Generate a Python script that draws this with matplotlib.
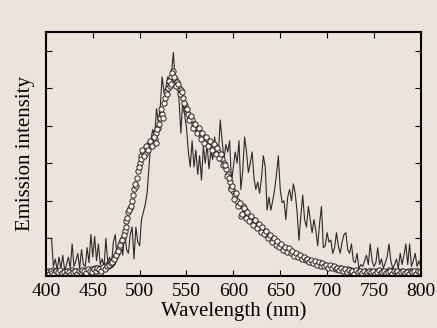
import matplotlib
matplotlib.use("Agg")
import matplotlib.pyplot as plt
import numpy as np

plt.rcParams['font.family'] = ['Liberation Serif', 'DejaVu Serif']

# wavelength grids (nm)
wavelength = np.arange(400, 801, 2)
wavelength_odd = np.arange(401, 800, 2)

# noisy emission spectrum (solid line)
line_intensity = [
    1.0, 1.0, 1.0, 1.0, 0.25, 0.45, 0.15, 0.5, 0.2, 0.55,            # 400-418
    0.15, 0.3, 0.5, 0.2, 0.85, 0.25, 0.4, 0.6, 0.2, 0.7,             # 420-438
    0.3, 0.25, 0.75, 0.35, 1.1, 0.5, 1.05, 0.4, 0.85, 0.3,           # 440-458
    0.45, 0.25, 1.0, 0.35, 0.5, 0.3, 0.9, 1.1, 0.45, 0.6,            # 460-478
    0.9, 0.55, 1.2, 0.7, 0.6, 1.1, 1.3, 0.45, 1.3, 0.9,              # 480-498
    0.8, 1.5, 1.7, 1.9, 2.2, 2.9, 3.6, 3.9, 3.7, 4.45,               # 500-518
    4.1, 4.5, 5.3, 4.9, 5.0, 5.3, 5.1, 5.4, 5.95, 5.15,              # 520-538
    5.3, 4.7, 3.8, 4.7, 4.3, 3.95, 3.3, 2.9, 3.6, 2.9,               # 540-558
    3.35, 2.7, 3.2, 2.55, 3.45, 3.0, 3.5, 2.85, 3.3, 3.1,            # 560-578
    3.7, 3.25, 3.25, 4.15, 3.6, 3.1, 3.5, 3.3, 3.6, 2.5,             # 580-598
    2.9, 3.3, 3.0, 3.6, 2.3, 2.8, 3.7, 3.3, 2.75, 3.0,               # 600-618
    3.3, 2.6, 2.3, 2.5, 2.2, 2.6, 3.2, 2.9, 1.75, 2.1,               # 620-638
    1.75, 2.0, 2.3, 2.7, 3.2, 2.3, 1.95, 2.0, 1.5, 2.1,              # 640-658
    2.3, 2.0, 2.45, 2.2, 1.7, 0.95, 1.6, 2.15, 1.5, 1.3,             # 660-678
    1.85, 1.5, 1.15, 1.5, 1.2, 0.8, 1.4, 1.85, 0.75, 0.8,            # 680-698
    1.15, 0.9, 0.95, 0.6, 0.75, 1.15, 0.8, 0.6, 0.9, 1.1,            # 700-718
    1.15, 0.7, 0.6, 0.85, 0.4, 0.35, 0.6, 0.2, 0.3, 0.25,            # 720-738
    0.4, 0.55, 0.3, 0.85, 0.4, 0.25, 0.35, 0.75, 0.3, 0.45,          # 740-758
    0.2, 0.35, 0.5, 0.85, 0.4, 0.2, 0.3, 0.45, 0.2, 0.6,             # 760-778
    0.3, 0.55, 0.85, 0.3, 0.85, 0.25, 0.4, 0.6, 0.25, 0.4,           # 780-798
    0.25,                                                            # 800
]

# smoother spectrum (open circles), even wavelengths
circle_intensity = [
    0.08, 0.12, 0.05, 0.1, 0.15, 0.06, 0.1, 0.08, 0.13, 0.05,        # 400-418
    0.1, 0.12, 0.07, 0.1, 0.15, 0.08, 0.12, 0.1, 0.06, 0.14,         # 420-438
    0.1, 0.16, 0.12, 0.1, 0.18, 0.14, 0.2, 0.15, 0.2, 0.05,          # 440-458
    0.22, 0.2, 0.28, 0.25, 0.3, 0.35, 0.4, 0.5, 0.6, 0.75,           # 460-478
    0.9, 1.0, 1.2, 1.45, 1.7, 1.8, 2.0, 2.3, 2.4, 2.8,               # 480-498
    3.0, 3.2, 3.3, 3.25, 3.4, 3.5, 3.55, 3.5, 3.65, 3.8,             # 500-518
    3.95, 4.2, 4.3, 4.6, 4.9, 5.0, 5.05, 5.3, 5.45, 5.25,            # 520-538
    5.15, 5.0, 4.95, 4.75, 4.55, 4.4, 4.3, 4.2, 4.15, 4.05,          # 540-558
    3.95, 3.9, 3.8, 3.75, 3.7, 3.65, 3.6, 3.55, 3.5, 3.45,           # 560-578
    3.45, 3.35, 3.3, 3.2, 3.1, 3.0, 2.85, 2.7, 2.5, 2.35,            # 580-598
    2.25, 2.15, 2.0, 1.9, 1.6, 1.85, 1.75, 1.7, 1.6, 1.55,           # 600-618
    1.5, 1.45, 1.4, 1.35, 1.3, 1.25, 1.2, 1.15, 1.1, 1.05,           # 620-638
    1.0, 0.95, 0.9, 0.87, 0.83, 0.8, 0.77, 0.75, 0.72, 0.7,          # 640-658
    0.66, 0.63, 0.6, 0.58, 0.55, 0.52, 0.5, 0.48, 0.46, 0.44,        # 660-678
    0.42, 0.4, 0.38, 0.36, 0.35, 0.33, 0.32, 0.3, 0.29, 0.28,        # 680-698
    0.27, 0.25, 0.24, 0.23, 0.22, 0.2, 0.18, 0.2, 0.15, 0.18,        # 700-718
    0.14, 0.17, 0.12, 0.15, 0.1, 0.13, 0.08, 0.12, 0.03, 0.1,        # 720-738
    0.12, 0.08, 0.1, 0.13, 0.07, 0.1, 0.12, 0.06, 0.1, 0.13,         # 740-758
    0.08, 0.02, 0.1, 0.15, 0.08, 0.12, 0.05, 0.1, 0.13, 0.08,        # 760-778
    0.12, 0.04, 0.1, 0.14, 0.08, 0.12, 0.06, 0.1, 0.13, 0.08,        # 780-798
    0.1,                                                             # 800
]

# open circles, odd wavelengths
circle_intensity_odd = [
    0.1, 0.06, 0.14, 0.08, 0.04, 0.12, 0.09, 0.15, 0.07, 0.11,       # 401-419
    0.05, 0.13, 0.1, 0.04, 0.11, 0.14, 0.06, 0.12, 0.09, 0.16,       # 421-439
    0.12, 0.08, 0.17, 0.13, 0.1, 0.19, 0.12, 0.22, 0.18, 0.14,       # 441-459
    0.24, 0.18, 0.26, 0.3, 0.33, 0.38, 0.45, 0.55, 0.65, 0.82,       # 461-479
    0.95, 1.1, 1.3, 1.55, 1.75, 1.85, 2.15, 2.45, 2.6, 2.9,          # 481-499
    3.1, 3.35, 3.2, 3.45, 3.35, 3.6, 3.45, 3.7, 3.55, 3.9,           # 501-519
    4.05, 4.45, 4.2, 4.75, 4.85, 5.2, 5.1, 5.4, 5.3, 5.05,           # 521-539
    5.1, 4.85, 4.9, 4.6, 4.45, 4.45, 4.15, 4.25, 3.95, 4.05,         # 541-559
    3.8, 3.95, 3.65, 3.8, 3.55, 3.7, 3.45, 3.6, 3.35, 3.5,           # 561-579
    3.25, 3.4, 3.15, 3.25, 2.95, 2.95, 2.65, 2.6, 2.3, 2.4,          # 581-599
    2.05, 2.2, 1.85, 1.95, 1.65, 1.8, 1.55, 1.7, 1.45, 1.6,          # 601-619
    1.35, 1.5, 1.28, 1.38, 1.18, 1.3, 1.12, 1.2, 1.0, 1.1,           # 621-639
    0.9, 1.0, 0.82, 0.92, 0.76, 0.85, 0.7, 0.78, 0.64, 0.73,         # 641-659
    0.6, 0.67, 0.54, 0.62, 0.5, 0.56, 0.45, 0.5, 0.41, 0.46,         # 661-679
    0.37, 0.43, 0.34, 0.39, 0.3, 0.36, 0.27, 0.33, 0.25, 0.3,        # 681-699
    0.22, 0.28, 0.2, 0.25, 0.17, 0.22, 0.15, 0.2, 0.12, 0.18,        # 701-719
    0.1, 0.16, 0.09, 0.14, 0.06, 0.15, 0.1, 0.12, 0.07, 0.13,        # 721-739
    0.05, 0.11, 0.14, 0.09, 0.12, 0.06, 0.1, 0.15, 0.08, 0.11,       # 741-759
    0.13, 0.07, 0.1, 0.14, 0.04, 0.12, 0.09, 0.13, 0.06, 0.1,        # 761-779
    0.14, 0.08, 0.11, 0.05, 0.13, 0.09, 0.12, 0.06, 0.14, 0.09,      # 781-799
]

x_ticks = [400, 450, 500, 550, 600, 650, 700, 750, 800]
bg = '#ebe4dc'

fig = plt.figure(figsize=(4.37, 3.28), dpi=100, facecolor=bg)
ax = fig.add_axes([0.105, 0.159, 0.858, 0.744], facecolor=bg)

ax.plot(wavelength, line_intensity, color='#2a2a2a', lw=0.8)
marker_style = dict(ls='none', marker='o', ms=3.8, mfc='#f4f0ea',
                    mec='#1a1a1a', mew=0.65)
ax.plot(wavelength, circle_intensity, **marker_style)
ax.plot(wavelength_odd, circle_intensity_odd, **marker_style)

ax.set_xlim(400, 800)
ax.set_ylim(0, 6.5)
ax.set_xticks(x_ticks)
ax.set_yticks(np.arange(0, 7))
ax.set_yticklabels([])
ax.tick_params(direction='in', top=True, right=True, length=4, width=0.8,
               labelsize=14, pad=5)
for s in ax.spines.values():
    s.set_linewidth(1.5)

ax.set_xlabel('Wavelength (nm)', fontsize=15, labelpad=1)
ax.set_ylabel('Emission intensity', fontsize=15, labelpad=3)

fig.savefig('out.png', dpi=100, facecolor=bg)
